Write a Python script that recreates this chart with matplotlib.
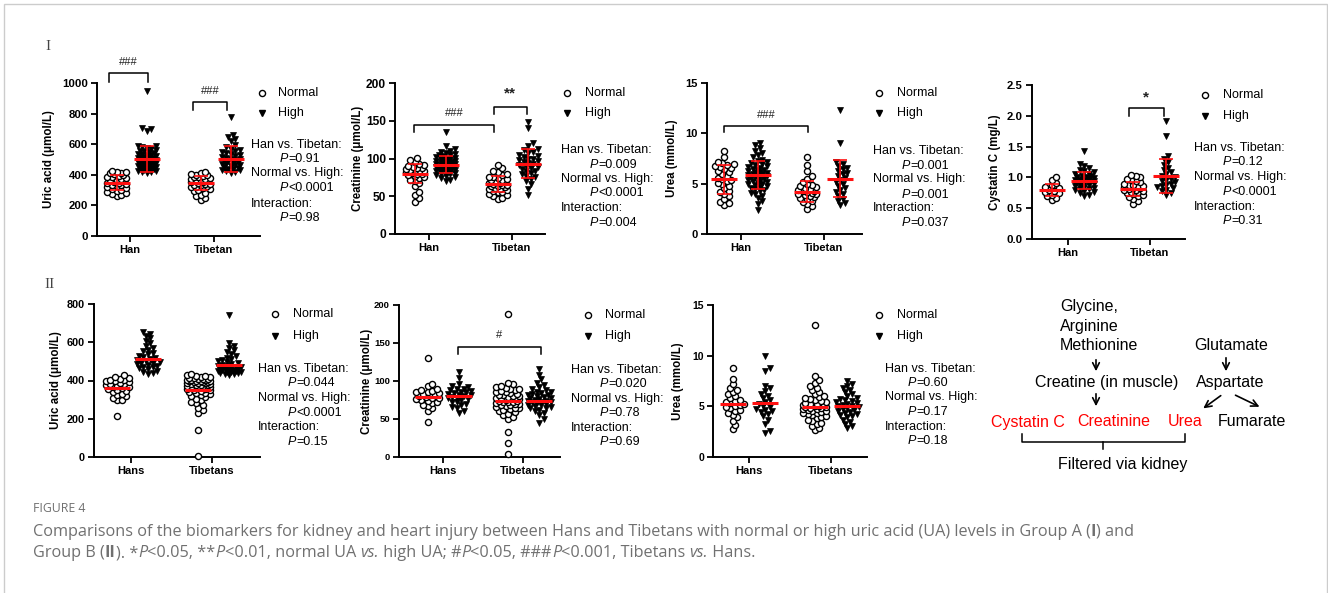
import matplotlib
matplotlib.use('Agg')
import matplotlib.pyplot as plt
from matplotlib.lines import Line2D
from matplotlib.patches import Rectangle, FancyArrowPatch
import numpy as np

# ---------------- data ----------------
cats_a = ['Han', 'Tibetan']
cats_b = ['Hans', 'Tibetans']

# Group A (I) uric acid, umol/L : Han normal, Han high, Tibetan normal, Tibetan high
ua_a_han_n = [262, 268, 275, 283, 287, 296, 301, 309, 314, 318, 326, 331, 336, 339, 344, 349, 353, 357,
              364, 369, 371, 379, 384, 388, 395, 399, 404, 409, 413, 417, 421, 426]
ua_a_han_h = [413, 417, 421, 424, 428, 431, 433, 437, 442, 444, 447, 451, 453, 456, 459, 463, 466, 468,
              471, 474, 477, 479, 482, 486, 488, 491, 494, 497, 499, 502, 504, 507, 509, 512, 516, 519,
              523, 527, 531, 536, 539, 544, 548, 553, 557, 562, 568, 573, 579, 585, 591, 684, 697, 703, 948]
ua_a_tib_n = [236, 247, 262, 271, 283, 292, 299, 306, 312, 317, 322, 327, 331, 336, 339, 343, 347, 351,
              355, 358, 362, 366, 371, 374, 378, 383, 387, 392, 397, 401, 407, 412, 418]
ua_a_tib_h = [414, 418, 423, 429, 433, 438, 441, 447, 452, 456, 461, 466, 469, 473, 478, 482, 487, 491,
              496, 501, 506, 511, 517, 522, 528, 534, 541, 548, 556, 563, 571, 582, 597, 618, 635, 647, 662, 781]
ua_a_mean = [348, 505, 347, 503]
ua_a_sd = [50, 84, 47, 83]

# Group A creatinine, umol/L
cr_a_han_n = [43, 48, 52, 55, 63, 67, 70, 72, 74, 75, 77, 78, 79, 80, 81, 82, 83, 84, 85, 85, 86, 87,
              88, 89, 90, 91, 93, 95, 98, 101]
cr_a_han_h = [70, 72, 74, 75, 77, 78, 79, 80, 81, 82, 83, 84, 84, 85, 86, 86, 87, 88, 88, 89, 89, 90, 90,
              91, 91, 92, 92, 93, 93, 94, 94, 95, 95, 96, 96, 97, 97, 98, 99, 99, 100, 101, 102, 103, 104,
              105, 106, 107, 108, 110, 113, 117, 135]
cr_a_tib_n = [47, 48, 50, 52, 53, 55, 56, 57, 58, 59, 60, 61, 62, 63, 64, 65, 65, 66, 67, 68, 69, 70, 71,
              72, 73, 74, 75, 76, 78, 80, 82, 84, 87, 92]
cr_a_tib_h = [52, 60, 66, 70, 73, 75, 77, 79, 81, 83, 84, 86, 88, 89, 90, 92, 93, 94, 96, 97, 98, 99, 100,
              102, 103, 105, 107, 109, 111, 113, 116, 120, 140, 148]
cr_a_mean = [80, 92, 66, 93]
cr_a_sd = [13, 11, 11, 19]

# Group A urea, mmol/L
ur_a_han_n = [2.9, 3.1, 3.2, 3.5, 3.8, 4.0, 4.2, 4.3, 4.6, 4.8, 5.0, 5.1, 5.3, 5.4, 5.5, 5.6, 5.8, 6.0,
              6.2, 6.3, 6.5, 6.6, 6.7, 6.8, 6.9, 7.0, 7.1, 7.2, 7.6, 8.2]
ur_a_han_h = [2.4, 3.0, 3.3, 3.6, 3.8, 4.0, 4.1, 4.3, 4.4, 4.5, 4.6, 4.7, 4.8, 4.9, 5.0, 5.0, 5.1, 5.2,
              5.3, 5.3, 5.4, 5.5, 5.5, 5.6, 5.7, 5.7, 5.8, 5.9, 5.9, 6.0, 6.0, 6.1, 6.2, 6.2, 6.3, 6.4,
              6.4, 6.5, 6.6, 6.7, 6.8, 6.9, 7.0, 7.1, 7.2, 7.3, 7.4, 7.6, 7.8, 8.0, 8.2, 8.5, 8.8, 9.0]
ur_a_tib_n = [2.5, 2.8, 3.0, 3.2, 3.3, 3.5, 3.6, 3.7, 3.8, 3.9, 4.0, 4.0, 4.1, 4.2, 4.3, 4.3, 4.4, 4.5,
              4.6, 4.7, 4.8, 4.9, 5.0, 5.2, 5.5, 5.8, 6.3, 6.9, 7.6]
ur_a_tib_h = [2.9, 3.1, 3.3, 3.5, 3.8, 4.0, 4.2, 4.4, 4.6, 4.8, 5.0, 5.2, 5.4, 5.6, 5.8, 6.0, 6.1, 6.3,
              6.5, 6.6, 6.8, 7.0, 7.2, 9.0, 12.3]
ur_a_mean = [5.45, 5.9, 4.2, 5.5]
ur_a_sd = [1.45, 1.4, 1.05, 1.85]

# Group A cystatin C, mg/L
cy_han_n = [0.64, 0.67, 0.69, 0.72, 0.74, 0.76, 0.78, 0.80, 0.82, 0.84, 0.87, 0.91, 0.95, 1.00]
cy_han_h = [0.70, 0.72, 0.74, 0.76, 0.78, 0.79, 0.81, 0.82, 0.83, 0.85, 0.86, 0.87, 0.88, 0.89, 0.90,
            0.91, 0.92, 0.92, 0.93, 0.94, 0.95, 0.95, 0.96, 0.97, 0.98, 0.99, 1.00, 1.01, 1.02, 1.03,
            1.05, 1.06, 1.08, 1.10, 1.12, 1.15, 1.18, 1.22, 1.43]
cy_tib_n = [0.57, 0.62, 0.65, 0.68, 0.70, 0.72, 0.73, 0.75, 0.76, 0.77, 0.78, 0.79, 0.80, 0.81, 0.82,
            0.83, 0.84, 0.85, 0.86, 0.87, 0.88, 0.90, 0.92, 0.94, 0.96, 0.98, 1.00, 1.02, 1.04]
cy_tib_h = [0.72, 0.75, 0.78, 0.80, 0.82, 0.84, 0.86, 0.88, 0.90, 0.92, 0.94, 0.96, 0.98, 1.00, 1.02,
            1.05, 1.08, 1.12, 1.16, 1.20, 1.25, 1.30, 1.35, 1.68, 1.92]
cy_mean = [0.795, 0.945, 0.815, 1.02]
cy_sd = [0.10, 0.135, 0.11, 0.28]

# Group B (II) uric acid
ua_b_han_n = [215, 296, 300, 310, 318, 325, 332, 340, 345, 350, 355, 360, 365, 368, 372, 376, 380, 384,
              388, 391, 395, 398, 401, 405, 410, 415, 420, 430]
ua_b_han_h = [432, 440, 445, 452, 458, 463, 468, 472, 477, 481, 486, 490, 494, 498, 503, 508, 513, 518,
              524, 530, 537, 545, 553, 562, 572, 583, 595, 608, 620, 633, 645, 655]
ua_b_tib_n = [5, 140, 232, 245, 258, 270, 280, 290, 298, 305, 312, 318, 323, 328, 333, 337, 341, 345, 349,
              352, 355, 358, 361, 364, 367, 370, 372, 375, 377, 379, 381, 383, 385, 387, 389, 391, 392,
              394, 396, 397, 399, 400, 402, 403, 405, 406, 408, 410, 412, 414, 416, 418, 421, 424, 428, 433]
ua_b_tib_h = [430, 433, 436, 439, 441, 443, 445, 447, 449, 451, 453, 455, 457, 459, 461, 463, 466, 469,
              472, 475, 478, 482, 486, 490, 495, 500, 506, 512, 520, 528, 537, 547, 558, 570, 583, 597, 740]
ua_b_mean = [363, 513, 352, 481]

# Group B creatinine
cr_b_han_n = [46, 60, 64, 67, 69, 71, 72, 74, 75, 76, 77, 78, 79, 80, 81, 82, 83, 84, 85, 86, 87, 88,
              90, 93, 96, 130]
cr_b_han_h = [58, 61, 64, 66, 68, 70, 72, 73, 75, 76, 77, 78, 79, 80, 81, 82, 83, 84, 85, 86, 87, 88,
              89, 90, 92, 94, 96, 104, 112]
cr_b_tib_n = [4, 18, 33, 50, 53, 55, 57, 59, 60, 62, 63, 64, 65, 66, 67, 68, 69, 70, 70, 71, 72, 72, 73,
              74, 74, 75, 76, 76, 77, 78, 78, 79, 80, 80, 81, 82, 83, 84, 85, 86, 87, 88, 89, 90, 91, 92,
              94, 96, 97, 188]
cr_b_tib_h = [45, 50, 55, 58, 60, 62, 64, 65, 66, 67, 68, 69, 70, 71, 72, 72, 73, 74, 74, 75, 76, 77, 78,
              79, 80, 81, 82, 83, 84, 85, 86, 88, 90, 92, 95, 98, 102, 108, 116]
cr_b_mean = [79, 80.5, 74, 74]

# Group B urea
ur_b_han_n = [2.8, 3.2, 3.6, 3.9, 4.1, 4.3, 4.5, 4.6, 4.8, 4.9, 5.0, 5.1, 5.2, 5.3, 5.4, 5.5, 5.6, 5.8,
              6.0, 6.2, 6.4, 6.6, 6.8, 7.2, 7.7, 8.8]
ur_b_han_h = [2.4, 2.6, 3.3, 3.7, 4.0, 4.2, 4.4, 4.5, 4.6, 4.7, 4.9, 5.0, 5.2, 5.4, 5.6, 5.8, 6.0, 6.2,
              6.5, 6.8, 7.0, 8.5, 8.8, 10.0]
ur_b_tib_n = [2.7, 2.9, 3.1, 3.3, 3.4, 3.6, 3.7, 3.8, 3.9, 4.0, 4.1, 4.2, 4.3, 4.3, 4.4, 4.5, 4.5, 4.6,
              4.7, 4.7, 4.8, 4.8, 4.9, 4.9, 5.0, 5.0, 5.1, 5.1, 5.2, 5.2, 5.3, 5.4, 5.5, 5.6, 5.7, 5.8,
              5.9, 6.0, 6.2, 6.4, 6.6, 6.8, 7.0, 7.3, 7.6, 8.0, 13.0]
ur_b_tib_h = [2.9, 3.1, 3.3, 3.5, 3.7, 3.9, 4.0, 4.1, 4.2, 4.3, 4.4, 4.5, 4.6, 4.7, 4.8, 4.9, 5.0, 5.0,
              5.1, 5.2, 5.3, 5.4, 5.5, 5.6, 5.7, 5.8, 6.0, 6.2, 6.4, 6.6, 6.8, 7.0, 7.2, 7.5]
ur_b_mean = [5.23, 5.36, 4.9, 5.03]

pvals = {
    'ua_a': ['=0.91', '<0.0001', '=0.98'],
    'cr_a': ['=0.009', '<0.0001', '=0.004'],
    'ur_a': ['=0.001', '=0.001', '=0.037'],
    'cy_a': ['=0.12', '<0.0001', '=0.31'],
    'ua_b': ['=0.044', '<0.0001', '=0.15'],
    'cr_b': ['=0.020', '=0.78', '=0.69'],
    'ur_b': ['=0.60', '=0.17', '=0.18'],
}

# ---------------- figure ----------------
W, H = 1328, 593
SANS = ['Liberation Sans', 'DejaVu Sans']
plt.rcParams['font.family'] = SANS
fig = plt.figure(figsize=(W / 100, H / 100), dpi=100)
renderer = fig.canvas.get_renderer()


def fx(x):
    return x / W


def fy(y):
    return 1 - y / H


def rich(x, y, segs, size, color='black', family=SANS, va='center'):
    cx = x
    for s, st in segs:
        kw = {}
        if st == 'i':
            kw['style'] = 'italic'
        if st == 'b':
            kw['weight'] = 'bold'
        t = fig.text(fx(cx), fy(y), s, fontsize=size, color=color, family=family,
                     va=va, ha='left', **kw)
        cx += t.get_window_extent(renderer=renderer).width
    return cx


def swarm(vals, xc, pxx, pxy, d=4.6, maxhalf=10):
    vals = np.asarray(vals, float)
    step = d * 0.5
    cands = [0.0]
    n = 1
    while n * step <= maxhalf:
        cands += [n * step, -n * step]
        n += 1
    placed = []
    xs = np.empty(len(vals))
    for i in np.argsort(vals):
        ypx = vals[i] * pxy
        best, bestd = 0.0, -1
        near = [(px, py) for px, py in placed if abs(ypx - py) < d]
        for off in cands:
            md = min([np.hypot(off - px, ypx - py) for px, py in near] or [1e9])
            if md >= d:
                best = off
                break
            if md > bestd:
                bestd, best = md, off
        placed.append((best, ypx))
        xs[i] = xc + best / pxx
    return xs


def panel(rect, xlim, ylim, yticks, ytl, ylabel, ylab_x, cats, groups, means, sds,
          offs=(-0.18, 0.19), maxhalf=10, tfs=8.0):
    l, t, r, b = rect
    ax = fig.add_axes([l / W, 1 - b / H, (r - l) / W, (b - t) / H])
    ax.set_xlim(*xlim)
    ax.set_ylim(*ylim)
    ax.patch.set_alpha(0)
    for s in ['top', 'right']:
        ax.spines[s].set_visible(False)
    for s in ['left', 'bottom']:
        ax.spines[s].set_linewidth(1.4)
    ax.set_xticks([0, 1])
    ax.set_xticklabels(cats, fontsize=8, fontweight='bold')
    ax.set_yticks(yticks)
    ax.set_yticklabels(ytl, fontsize=tfs, fontweight='bold')
    ax.tick_params(direction='out', length=4, width=1.3, pad=2.5)
    pxx = (r - l) / (xlim[1] - xlim[0])
    pxy = (b - t) / (ylim[1] - ylim[0])
    pos = [0 + offs[0], 0 + offs[1], 1 + offs[0], 1 + offs[1]]
    for k, (vals, xc) in enumerate(zip(groups, pos)):
        xs = swarm(vals, xc, pxx, pxy, maxhalf=maxhalf)
        if k % 2 == 0:
            ax.plot(xs, vals, 'o', ms=4.4, mfc='white', mec='black', mew=1.0, ls='none',
                    clip_on=False, zorder=3)
        else:
            ax.plot(xs, vals, 'v', ms=4.6, mfc='black', mec='black', mew=0.5, ls='none',
                    clip_on=False, zorder=3)
        m = means[k]
        ax.hlines(m, xc - 13 / pxx, xc + 13 / pxx, color='#ff1010', lw=2.2, zorder=5)
        if sds is not None:
            sd = sds[k]
            ax.vlines(xc, m - sd, m + sd, color='#ff1010', lw=1.2, zorder=5)
            for yy in (m - sd, m + sd):
                ax.hlines(yy, xc - 7 / pxx, xc + 7 / pxx, color='#ff1010', lw=1.2, zorder=5)
    fig.text(fx(ylab_x), fy((t + b) / 2), ylabel, rotation=90, ha='center', va='center',
             fontsize=8.3, fontweight='bold')
    return ax


def bracket(ax, x1, x2, ytop, yleg, label, ylab, size=8, weight='normal'):
    ax.plot([x1, x1, x2, x2], [yleg, ytop, ytop, yleg], color='black', lw=1.1, clip_on=False)
    ax.text((x1 + x2) / 2, ylab, label, ha='center', va='center', fontsize=size,
            fontweight=weight, color='#222222', clip_on=False)


def legend_block(mx, tx, yn, yh, px, ix, ys, pv):
    fig.add_artist(Line2D([fx(mx)], [fy(yn)], marker='o', ms=4.4, mfc='white', mec='black',
                          mew=1.0, transform=fig.transFigure))
    fig.add_artist(Line2D([fx(mx)], [fy(yh)], marker='v', ms=4.6, mfc='black', mec='black',
                          transform=fig.transFigure))
    fig.text(fx(tx), fy(yn), 'Normal', fontsize=9, va='center', ha='left')
    fig.text(fx(tx), fy(yh), 'High', fontsize=9, va='center', ha='left')
    heads = ['Han vs. Tibetan:', 'Normal vs. High:', 'Interaction:']
    for i in range(3):
        fig.text(fx(px), fy(ys[2 * i]), heads[i], fontsize=9, va='center', ha='left')
        rich(ix, ys[2 * i + 1], [('P', 'i'), (pv[i], '')], 9)


# ---- Row I ----
ax1 = panel((97, 83, 260, 236), (-0.393, 1.548), (0, 1000), [0, 200, 400, 600, 800, 1000],
            ['0', '200', '400', '600', '800', '1000'], 'Uric acid (μmol/L)', 49, cats_a,
            [ua_a_han_n, ua_a_han_h, ua_a_tib_n, ua_a_tib_h], ua_a_mean, ua_a_sd,
            offs=(-0.16, 0.2), tfs=8.2)
bracket(ax1, -0.25, 0.21, 1065, 1006, '###', 1137)
bracket(ax1, 0.75, 1.155, 876, 823, '###', 948)
legend_block(262, 278, 93, 113, 251, 280, [145, 159, 173, 188, 204, 218], pvals['ua_a'])

ax2 = panel((395, 83, 545, 234), (-0.41, 1.40), (0, 200), [0, 50, 100, 150, 200],
            ['0', '50', '100', '150', '200'], 'Creatinine (μmol/L)', 358, cats_a,
            [cr_a_han_n, cr_a_han_h, cr_a_tib_n, cr_a_tib_h], cr_a_mean, cr_a_sd,
            offs=(-0.17, 0.2), tfs=8.6)
bracket(ax2, -0.18, 0.78, 144, 135, '###', 160)
bracket(ax2, 0.78, 1.18, 168, 159, '**', 186, size=11, weight='bold')
legend_block(567, 585, 93, 113, 561, 590, [150, 165, 179, 193, 208, 223], pvals['cr_a'])

ax3 = panel((707, 83, 862, 234), (-0.41, 1.46), (0, 15), [0, 5, 10, 15],
            ['0', '5', '10', '15'], 'Urea (mmol/L)', 672, cats_a,
            [ur_a_han_n, ur_a_han_h, ur_a_tib_n, ur_a_tib_h], ur_a_mean, ur_a_sd,
            offs=(-0.2, 0.2), tfs=8.0)
bracket(ax3, -0.2, 0.81, 10.75, 10.1, '###', 11.8)
legend_block(879, 897, 93, 113, 873, 902, [151, 166, 179, 195, 208, 223], pvals['ur_a'])

ax4 = panel((1032, 85, 1185, 239), (-0.44, 1.43), (0, 2.5), [0, 0.5, 1.0, 1.5, 2.0, 2.5],
            ['0.0', '0.5', '1.0', '1.5', '2.0', '2.5'], 'Cystatin C (mg/L)', 995, cats_a,
            [cy_han_n, cy_han_h, cy_tib_n, cy_tib_h], cy_mean, cy_sd, offs=(-0.2, 0.2), tfs=8.2)
bracket(ax4, 0.74, 1.17, 2.12, 2.0, '*', 2.30, size=11, weight='bold')
legend_block(1205, 1223, 95, 116, 1194, 1223, [148, 162, 177, 192, 207, 221], pvals['cy_a'])

# ---- Row II ----
ax5 = panel((94, 304, 260, 457), (-0.457, 1.59), (0, 800), [0, 200, 400, 600, 800],
            ['0', '200', '400', '600', '800'], 'Uric acid (μmol/L)', 56, cats_b,
            [ua_b_han_n, ua_b_han_h, ua_b_tib_n, ua_b_tib_h], ua_b_mean, None, offs=(-0.17, 0.21),
            maxhalf=12, tfs=7.8)
legend_block(275, 293, 314, 336, 258, 288, [369, 383, 398, 413, 427, 442], pvals['ua_b'])

ax6 = panel((399, 305, 560, 457), (-0.55, 1.46), (0, 200), [0, 50, 100, 150, 200],
            ['0', '50', '100', '150', '200'], 'Creatinine (μmol/L)', 367, cats_b,
            [cr_b_han_n, cr_b_han_h, cr_b_tib_n, cr_b_tib_h], cr_b_mean, None, offs=(-0.19, 0.2),
            maxhalf=12, tfs=6.8)
bracket(ax6, 0.19, 1.22, 145, 136, '#', 160)
legend_block(588, 605, 315, 336, 571, 600, [370, 384, 399, 413, 428, 442], pvals['cr_b'])

ax7 = panel((713, 305, 867, 457), (-0.44, 1.44), (0, 15), [0, 5, 10, 15],
            ['0', '5', '10', '15'], 'Urea (mmol/L)', 678, cats_b,
            [ur_b_han_n, ur_b_han_h, ur_b_tib_n, ur_b_tib_h], ur_b_mean, None, offs=(-0.2, 0.2),
            maxhalf=12, tfs=7.5)
legend_block(879, 897, 315, 336, 885, 908, [369, 383, 397, 412, 427, 441], pvals['ur_b'])

# ---- panel numerals ----
SERIF = ['Liberation Serif', 'DejaVu Serif']
fig.text(fx(48), fy(46), 'I', family=SERIF, fontsize=11, color='#444444', ha='center', va='center')
fig.text(fx(50), fy(285), 'II', family=SERIF, fontsize=11, color='#444444', ha='center', va='center')

# ---- pathway diagram ----
DS = 11.5
fig.text(fx(1060), fy(307), 'Glycine,', fontsize=DS, va='center', ha='left')
fig.text(fx(1060), fy(326), 'Arginine', fontsize=DS, va='center', ha='left')
fig.text(fx(1060), fy(346), 'Methionine', fontsize=DS, va='center', ha='left')
fig.text(fx(1035), fy(383), 'Creatine (in muscle)', fontsize=DS, va='center', ha='left')
fig.text(fx(1194), fy(345), 'Glutamate', fontsize=DS, va='center', ha='left')
fig.text(fx(1196), fy(382), 'Aspartate', fontsize=DS, va='center', ha='left')
fig.text(fx(991), fy(422), 'Cystatin C', fontsize=DS, va='center', ha='left', color='#ff0000')
fig.text(fx(1077), fy(422), 'Creatinine', fontsize=DS, va='center', ha='left', color='#ff0000')
fig.text(fx(1168), fy(422), 'Urea', fontsize=DS, va='center', ha='left', color='#ff0000')
fig.text(fx(1218), fy(422), 'Fumarate', fontsize=DS, va='center', ha='left')
fig.text(fx(1058), fy(465), 'Filtered via kidney', fontsize=DS, va='center', ha='left')


def arrow(x1, y1, x2, y2):
    fig.add_artist(FancyArrowPatch((fx(x1), fy(y1)), (fx(x2), fy(y2)), transform=fig.transFigure,
                                   arrowstyle='->', mutation_scale=12, lw=1.2, color='black'))


arrow(1096, 357, 1096, 374)
arrow(1096, 391, 1096, 409)
arrow(1226, 355, 1226, 374)
arrow(1223, 394, 1201, 410)
arrow(1233, 394, 1262, 408)
for xs_, ys_ in [([1022, 1022, 1185, 1185], [434, 442, 442, 434]), ([1103, 1103], [442, 449])]:
    fig.add_artist(Line2D([fx(v) for v in xs_], [fy(v) for v in ys_], color='black', lw=1.1,
                          transform=fig.transFigure))

# ---- caption ----
CAP = ['Open Sans', 'DejaVu Sans']
CC = '#707070'
CS = 11.7
fig.text(fx(33), fy(509), 'FIGURE 4', family=CAP, fontsize=8.8, color=CC, va='center', ha='left')
rich(33, 532, [('Comparisons of the biomarkers for kidney and heart injury between Hans and Tibetans '
                'with normal or high uric acid (UA) levels in Group A (', ''), ('I', 'b'), (') and', '')],
     CS, color=CC, family=CAP)
rich(33, 553, [('Group B (', ''), ('II', 'b'), ('). *', ''), ('P', 'i'), ('<0.05, **', ''), ('P', 'i'),
               ('<0.01, normal UA ', ''), ('vs.', 'i'), (' high UA; #', ''), ('P', 'i'),
               ('<0.05, ###', ''), ('P', 'i'), ('<0.001, Tibetans ', ''), ('vs.', 'i'), (' Hans.', '')],
     CS, color=CC, family=CAP)

# ---- outer frame ----
fig.add_artist(Rectangle((fx(4), fy(600)), (1327 - 4) / W, (600 - 4) / H, transform=fig.transFigure,
                         fill=False, edgecolor='#cccccc', lw=1.0))

fig.savefig('out.png', dpi=100)
